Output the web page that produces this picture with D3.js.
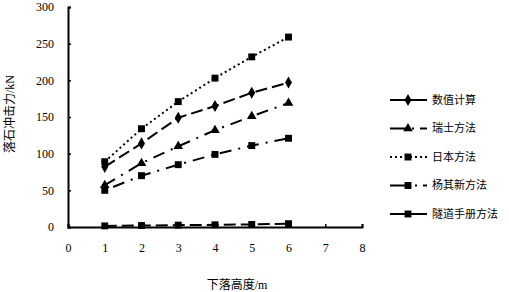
<!DOCTYPE html>
<html>
<head>
<meta charset="utf-8">
<script src="https://cdn.jsdelivr.net/npm/d3@7"></script>
<style>
  html, body { margin: 0; padding: 0; background: #fff; }
  #chart { width: 509px; height: 292px; }
</style>
</head>
<body>
<div id="chart"></div>
<script>
// --- data ---
const heights = [1, 2, 3, 4, 5, 6];
const seriesNames = ['数值计算', '瑞士方法', '日本方法', '杨其新方法', '隧道手册方法'];
const numerical = [82, 114, 149, 165, 183, 197];
const swiss = [57, 87, 110, 132, 151, 169];
const japan = [89, 134, 171, 203, 232, 259];
const yang = [50, 70, 85, 99, 111, 121];
const tunnel = [1.5, 2, 2.5, 3, 3.5, 4.5];
const xTicks = [0, 1, 2, 3, 4, 5, 6, 7, 8];
const yTicks = [0, 50, 100, 150, 200, 250, 300];

const seriesValues = [numerical, swiss, japan, yang, tunnel];
const markers = ['diamond', 'triangle', 'square', 'square', 'square'];
const dashes = ['12,5', '12,7,2,7', '2,3', '2,7,12,7', '12,5'];

const width = 509, height = 292;
const margin = { left: 68, right: 147, top: 7, bottom: 65 };
const chartWidth = width - margin.left - margin.right;
const chartHeight = height - margin.top - margin.bottom;

const svg = d3.select('#chart').append('svg')
    .attr('width', width)
    .attr('height', height);

const g = svg.append('g')
    .attr('transform', `translate(${margin.left},${margin.top})`);

const xScale = d3.scaleLinear().domain([0, 8]).range([0, chartWidth]);
const yScale = d3.scaleLinear().domain([0, 300]).range([chartHeight, 0]);

const serif = '"Liberation Serif", "Times New Roman", serif';
const cjk = '"Liberation Serif", "Noto Sans CJK SC", sans-serif';

// marker symbol
function drawMarker(sel, type, x, y) {
    const symbolType = type === 'diamond' ? d3.symbolDiamond
        : type === 'triangle' ? d3.symbolTriangle : d3.symbolSquare;
    const size = type === 'diamond' ? 42 : type === 'triangle' ? 40 : 48;
    sel.append('path')
        .attr('d', d3.symbol().type(symbolType).size(size)())
        .attr('transform', `translate(${x},${y})`)
        .attr('fill', '#000');
}

// series lines
const line = d3.line()
    .x((d, i) => xScale(heights[i]))
    .y(d => yScale(d));

seriesValues.forEach((vals, s) => {
    g.append('path')
        .datum(vals)
        .attr('d', line)
        .attr('fill', 'none')
        .attr('stroke', '#000')
        .attr('stroke-width', 2)
        .attr('stroke-dasharray', dashes[s]);
    vals.forEach((v, i) => drawMarker(g, markers[s], xScale(heights[i]), yScale(v)));
});

// axes
const xAxis = g.append('g')
    .attr('transform', `translate(0,${chartHeight})`)
    .call(d3.axisBottom(xScale).tickValues(xTicks).tickSize(-3).tickPadding(16).tickFormat(d3.format('d')));
const yAxis = g.append('g')
    .call(d3.axisLeft(yScale).tickValues(yTicks).tickSize(-3).tickPadding(14));

[xAxis, yAxis].forEach(ax => {
    ax.select('.domain').attr('stroke', '#000').attr('stroke-width', 2);
    ax.selectAll('.tick line').attr('stroke', '#000').attr('stroke-width', 1.5);
    ax.selectAll('text')
        .style('font-family', serif)
        .style('font-size', '12px')
        .attr('fill', '#000');
});

// axis titles
svg.append('text')
    .attr('x', margin.left + xScale(4.6))
    .attr('y', 289)
    .attr('text-anchor', 'middle')
    .style('font-family', cjk)
    .style('font-size', '12px')
    .text('下落高度/m');

svg.append('text')
    .attr('transform', 'rotate(-90)')
    .attr('x', -(margin.top + chartHeight / 2 - 3))
    .attr('y', 14)
    .attr('text-anchor', 'middle')
    .style('font-family', cjk)
    .style('font-size', '12px')
    .text('落石冲击力/kN');

// legend
const legend = svg.append('g').attr('transform', 'translate(390,100)');
seriesNames.forEach((name, s) => {
    const row = legend.append('g').attr('transform', `translate(0,${s * 28.5})`);
    row.append('line')
        .attr('x1', 0).attr('x2', 37)
        .attr('stroke', '#000')
        .attr('stroke-width', 2)
        .attr('stroke-dasharray', s === 2 ? '2,3' : s === 1 ? '16,6,2,6' : s === 3 ? '18,7,2,6' : null);
    drawMarker(row, markers[s], 18, 0);
    row.append('text')
        .attr('x', 42)
        .attr('y', 0)
        .attr('dy', '0.35em')
        .style('font-family', '"Noto Sans CJK SC", sans-serif')
        .style('font-size', '11px')
        .text(name);
});
</script>
</body>
</html>
